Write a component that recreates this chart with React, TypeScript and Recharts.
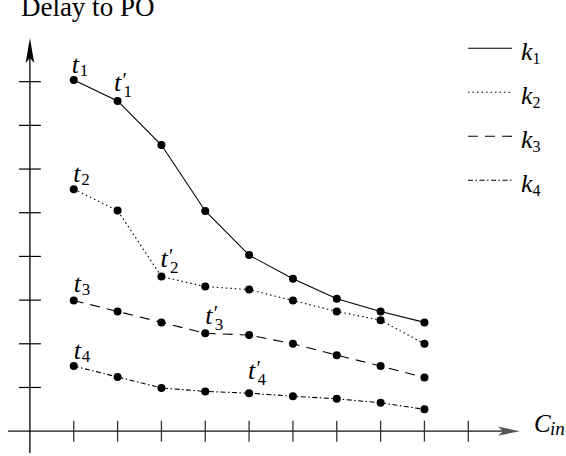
import React from 'react';
import { LineChart, Line, XAxis, YAxis, ReferenceLine, ReferenceDot, Legend } from 'recharts';

// ---- data ----
const categories = [1, 2, 3, 4, 5, 6, 7, 8, 9];
const k1 = [8.04, 7.56, 6.55, 5.04, 4.03, 3.49, 3.03, 2.74, 2.49];
const k2 = [5.54, 5.05, 3.54, 3.31, 3.24, 2.99, 2.74, 2.54, 2.0];
const k3 = [2.99, 2.74, 2.49, 2.24, 2.2, 2.0, 1.74, 1.49, 1.23];
const k4 = [1.49, 1.24, 0.99, 0.91, 0.87, 0.8, 0.74, 0.65, 0.5];
const xTicks = [1, 2, 3, 4, 5, 6, 7, 8, 9, 10];
const yTicks = [1, 2, 3, 4, 5, 6, 7, 8];
const seriesKeys = ['k1', 'k2', 'k3', 'k4'];
const seriesSubs = ['1', '2', '3', '4'];
const yAxisTitle = 'Delay to PO';
const xAxisTitle = 'C';
const xAxisTitleSub = 'in';
// point annotations: series, point index, subscript, primed
const annSeries = ['k1', 'k1', 'k2', 'k2', 'k3', 'k3', 'k4', 'k4'];
const annIndex = [0, 1, 0, 2, 0, 3, 0, 4];
const annSub = ['1', '1', '2', '2', '3', '3', '4', '4'];
const annPrime = [false, true, false, true, false, true, false, true];

// ---- layout / styles (kept apart from data) ----
const annDx = [-2, -3.5, -0.5, -1, 0, 0, 0, -1];
const annDy = [-7, -10, -7.5, -10, -9, -9, -7, -14];
const seriesDash: Record<string, string | undefined> = {
  k1: undefined,
  k2: '1.5 3',
  k3: '10 7',
  k4: '5 2.5 1.5 2.5',
};
const FONT = '"Liberation Serif", "DejaVu Serif", "Times New Roman", serif';
const textStyle: React.CSSProperties = { fontFamily: FONT };
const italicStyle: React.CSSProperties = { fontFamily: FONT, fontStyle: 'italic' };
const uprightStyle: React.CSSProperties = { fontStyle: 'normal' };

const seriesValues: Record<string, number[]> = { k1, k2, k3, k4 };
const rows = categories.map((x, i) => ({ x, k1: k1[i], k2: k2[i], k3: k3[i], k4: k4[i] }));

const ArrowLine = (props: any) => {
  const { x1, y1, x2, y2, color, width, headLen, headHalf, notch } = props;
  const dx = x2 - x1;
  const dy = y2 - y1;
  const len = Math.sqrt(dx * dx + dy * dy) || 1;
  const ux = dx / len;
  const uy = dy / len;
  const px = -uy;
  const py = ux;
  const bx = x2 - ux * headLen;
  const by = y2 - uy * headLen;
  const nx = x2 - ux * (headLen - notch);
  const ny = y2 - uy * (headLen - notch);
  const pts = `${x2},${y2} ${bx + px * headHalf},${by + py * headHalf} ${nx},${ny} ${bx - px * headHalf},${by - py * headHalf}`;
  return (
    <g>
      <line x1={x1} y1={y1} x2={nx} y2={ny} stroke={color} strokeWidth={width} />
      <polygon points={pts} fill={color} stroke="none" />
    </g>
  );
};

const PointLabel = ({ cx, cy, dx, dy, sub, prime }: any) => {
  const x = cx + dx;
  const y = cy + dy;
  return (
    <text x={x} y={y} fontSize={26} style={italicStyle} fill="#000">
      t
      {prime ? (
        <tspan x={x + 8.5} y={y - 4} fontSize={20} style={uprightStyle}>′</tspan>
      ) : null}
      <tspan x={x + (prime ? 9.5 : 8)} y={y + (prime ? 6 : 3)} fontSize={17} style={uprightStyle}>{sub}</tspan>
    </text>
  );
};

const renderLegend = (props: any) => {
  const payload = (props && props.payload) || [];
  const keys: string[] = payload.length ? payload.map((p: any) => String(p.dataKey)) : seriesKeys;
  return (
    <svg width={106} height={170} style={{ overflow: 'visible', display: 'block' }}>
      {keys.map((k, i) => {
        const ly = 18.3 + 44 * i;
        return (
          <g key={k}>
            <line x1={8} y1={ly} x2={52} y2={ly} stroke="#000" strokeWidth={1.1} strokeDasharray={seriesDash[k]} />
            <text x={61} y={ly + 11.7} fontSize={26} style={italicStyle} fill="#000">
              k
              <tspan x={72.5} y={ly + 15.7} fontSize={16} style={uprightStyle}>{seriesSubs[seriesKeys.indexOf(k)]}</tspan>
            </text>
          </g>
        );
      })}
    </svg>
  );
};

export default function App() {
  return (
    <div style={{ position: 'absolute', left: 0, top: 0, width: 566, height: 456, background: '#fff' }}>
      <LineChart width={566} height={456} data={rows} margin={{ top: 38, right: 46, bottom: 3, left: 8 }}>
        <XAxis dataKey="x" type="number" domain={[-0.5, 11.18]} hide allowDataOverflow />
        <YAxis type="number" domain={[-0.5, 9]} hide allowDataOverflow />

        <ReferenceLine
          segment={[{ x: -0.5, y: 0 }, { x: 11.18, y: 0 }]}
          ifOverflow="visible"
          shape={(p: any) => <ArrowLine {...p} color="#555" width={1.7} headLen={22} headHalf={4.5} notch={5} />}
        />
        <ReferenceLine
          segment={[{ x: 0, y: -0.5 }, { x: 0, y: 9 }]}
          ifOverflow="visible"
          shape={(p: any) => <ArrowLine {...p} color="#000" width={1.3} headLen={25} headHalf={4.3} notch={5} />}
        />
        {xTicks.map((t) => (
          <ReferenceLine key={'xt' + t} segment={[{ x: t, y: -0.24 }, { x: t, y: 0.24 }]} ifOverflow="visible" stroke="#333" strokeWidth={1.3} />
        ))}
        {yTicks.map((t) => (
          <ReferenceLine key={'yt' + t} segment={[{ x: -0.25, y: t }, { x: 0.25, y: t }]} ifOverflow="visible" stroke="#000" strokeWidth={1.2} />
        ))}

        {seriesKeys.map((k) => (
          <Line
            key={k}
            dataKey={k}
            type="linear"
            stroke="#000"
            strokeWidth={1.1}
            strokeDasharray={seriesDash[k]}
            dot={{ r: 4, fill: '#000', stroke: '#000', strokeWidth: 0 }}
            activeDot={false}
            isAnimationActive={false}
          />
        ))}

        <ReferenceDot
          x={0}
          y={9}
          r={0}
          ifOverflow="visible"
          shape={(p: any) => (
            <text x={p.cx - 9} y={p.cy - 22} fontSize={27} style={textStyle} fill="#000">{yAxisTitle}</text>
          )}
        />
        <ReferenceDot
          x={11.18}
          y={0}
          r={0}
          ifOverflow="visible"
          shape={(p: any) => (
            <text x={p.cx + 14} y={p.cy + 1} fontSize={25} style={italicStyle} fill="#000">
              {xAxisTitle}
              <tspan x={p.cx + 30} y={p.cy + 4} fontSize={19}>{xAxisTitleSub}</tspan>
            </text>
          )}
        />
        {annSeries.map((s, i) => (
          <ReferenceDot
            key={'ann' + i}
            x={categories[annIndex[i]]}
            y={seriesValues[s][annIndex[i]]}
            r={0}
            ifOverflow="visible"
            shape={(p: any) => (
              <PointLabel cx={p.cx} cy={p.cy} dx={annDx[i]} dy={annDy[i]} sub={annSub[i]} prime={annPrime[i]} />
            )}
          />
        ))}

        <Legend
          layout="vertical"
          align="center"
          verticalAlign="middle"
          content={renderLegend}
          wrapperStyle={{ left: 460, top: 30, width: 106, height: 170 }}
        />
      </LineChart>
    </div>
  );
}
